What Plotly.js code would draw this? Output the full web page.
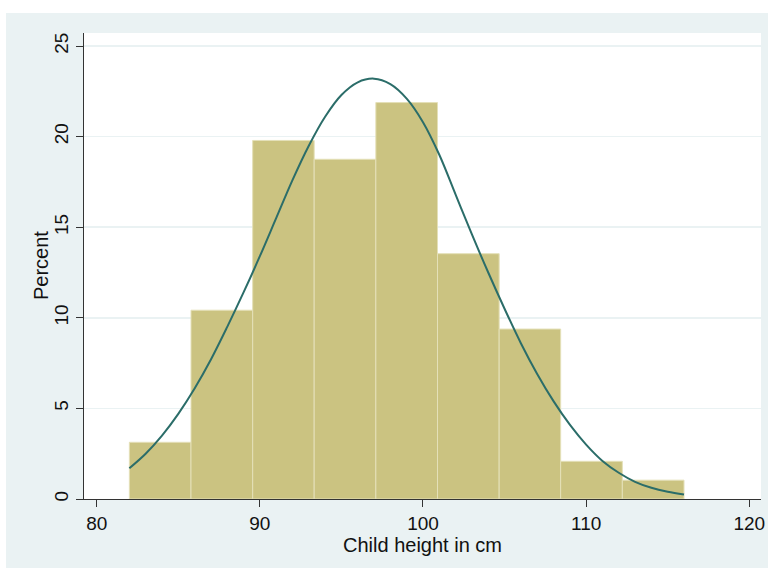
<!DOCTYPE html>
<html>
<head>
<meta charset="utf-8">
<script src="https://cdn.plot.ly/plotly-3.0.1.min.js"></script>
<style>
  html, body { margin: 0; padding: 0; background: #ffffff; width: 768px; height: 568px; overflow: hidden; }
  #chart { position: absolute; left: 6px; top: 13px; width: 762px; height: 555px; }
</style>
</head>
<body>
<div id="chart"></div>
<script>
// Histogram bin edges (cm) and bar heights (percent)
const binEdges = [82, 85.78, 89.56, 93.33, 97.11, 100.89, 104.67, 108.44, 112.22, 116];
const percentValues = [3.13, 10.42, 19.79, 18.75, 21.88, 13.54, 9.38, 2.08, 1.04];

// Overlaid normal density curve (percent scale)
const curveX = [82, 83, 84, 85, 86, 87, 88, 89, 90, 91, 92, 93, 94, 95, 96, 97, 98, 99, 100,
                101, 102, 103, 104, 105, 106, 107, 108, 109, 110, 111, 112, 113, 114, 115, 116];
const curveY = [1.7, 2.5, 3.5, 4.7, 6.1, 7.7, 9.5, 11.4, 13.4, 15.5, 17.6, 19.5, 21.1, 22.3, 23.0, 23.2, 22.9, 22.1, 20.8,
                19.0, 16.8, 14.6, 12.5, 10.5, 8.6, 6.9, 5.4, 4.1, 3.0, 2.1, 1.45, 0.95, 0.62, 0.4, 0.25];

// Axis ticks and titles
const xTicks = [80, 90, 100, 110, 120];
const yTicks = [0, 5, 10, 15, 20, 25];
const xTitle = 'Child height in cm';
const yTitle = 'Percent';

const barCenters = [];
const barWidths = [];
for (let i = 0; i < percentValues.length; i++) {
  barCenters.push((binEdges[i] + binEdges[i + 1]) / 2);
  barWidths.push(binEdges[i + 1] - binEdges[i]);
}

const fontFamily = 'Liberation Sans, Arial, Helvetica, sans-serif';

const traces = [
  {
    type: 'bar',
    x: barCenters,
    y: percentValues,
    width: barWidths,
    marker: { color: '#cbc381', line: { color: '#e4e0b8', width: 1 } },
    hoverinfo: 'x+y',
    showlegend: false
  },
  {
    type: 'scatter',
    mode: 'lines',
    x: curveX,
    y: curveY,
    line: { color: '#2b6d69', width: 2, shape: 'spline', smoothing: 1 },
    showlegend: false
  }
];

const layout = {
  width: 762,
  height: 555,
  paper_bgcolor: '#eaf2f3',
  plot_bgcolor: '#ffffff',
  margin: { l: 78, r: 7, t: 20, b: 69 },
  bargap: 0,
  font: { family: fontFamily, color: '#111111', size: 19 },
  xaxis: {
    range: [79.22, 120.72],
    tickvals: xTicks,
    ticktext: xTicks.map(String),
    ticks: 'outside',
    ticklen: 7,
    tickwidth: 1,
    tickcolor: '#333333',
    showline: true,
    linecolor: '#333333',
    linewidth: 1,
    showgrid: false,
    zeroline: false,
    tickfont: { size: 19, family: fontFamily, color: '#111111' },
    title: { text: xTitle, font: { size: 20, family: fontFamily, color: '#111111' }, standoff: 2 }
  },
  yaxis: {
    range: [0, 25.72],
    tickvals: yTicks,
    ticktext: yTicks.map(String),
    tickangle: -90,
    ticks: 'outside',
    ticklen: 7,
    tickwidth: 1,
    tickcolor: '#333333',
    showline: true,
    linecolor: '#333333',
    linewidth: 1,
    showgrid: true,
    gridcolor: '#eaf2f3',
    gridwidth: 1.5,
    zeroline: false,
    tickfont: { size: 19, family: fontFamily, color: '#111111' }
  },
  annotations: [
    {
      text: yTitle,
      xref: 'paper', yref: 'paper',
      x: 0, y: 0.5,
      xanchor: 'center', yanchor: 'middle',
      xshift: -43,
      textangle: -90,
      showarrow: false,
      font: { size: 20, family: fontFamily, color: '#111111' }
    }
  ]
};

Plotly.newPlot('chart', traces, layout, { displayModeBar: false, staticPlot: true });
</script>
</body>
</html>
